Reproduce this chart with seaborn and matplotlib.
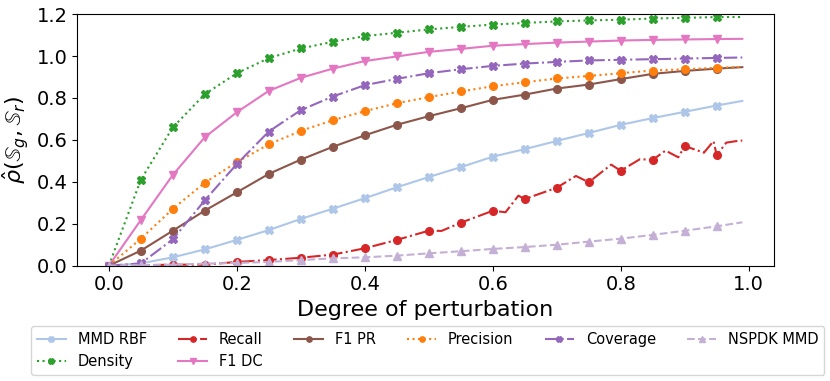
import numpy as np
import pandas as pd
import seaborn as sns
import matplotlib.pyplot as plt

# perturbation degrees (markers drawn at 0.00 .. 0.95, line runs to 0.99)
x_grid = [0.0, 0.05, 0.1, 0.15, 0.2, 0.25, 0.3, 0.35, 0.4, 0.45, 0.5,
          0.55, 0.6, 0.65, 0.7, 0.75, 0.8, 0.85, 0.9, 0.95, 0.99]

mmd_rbf = [0.0, 0.011, 0.04, 0.078, 0.123, 0.17, 0.223, 0.272, 0.322, 0.374, 0.423,
           0.47, 0.52, 0.556, 0.595, 0.633, 0.672, 0.704, 0.734, 0.764, 0.786]
density = [0.0, 0.41, 0.66, 0.818, 0.918, 0.99, 1.036, 1.068, 1.095, 1.111, 1.127,
           1.139, 1.15, 1.158, 1.165, 1.17, 1.173, 1.179, 1.182, 1.186, 1.186]
f1_dc = [0.0, 0.218, 0.433, 0.613, 0.732, 0.834, 0.896, 0.94, 0.976, 0.998, 1.02,
         1.034, 1.049, 1.057, 1.064, 1.069, 1.074, 1.077, 1.079, 1.081, 1.082]
f1_pr = [0.0, 0.072, 0.167, 0.263, 0.35, 0.438, 0.506, 0.567, 0.622, 0.672, 0.713,
         0.751, 0.791, 0.816, 0.845, 0.864, 0.89, 0.915, 0.929, 0.94, 0.947]
precision = [0.0, 0.129, 0.271, 0.396, 0.494, 0.579, 0.643, 0.694, 0.737, 0.775, 0.804,
             0.831, 0.856, 0.875, 0.893, 0.905, 0.918, 0.931, 0.937, 0.944, 0.948]
coverage = [0.0, 0.011, 0.126, 0.312, 0.485, 0.64, 0.742, 0.807, 0.861, 0.891, 0.918,
            0.937, 0.953, 0.964, 0.972, 0.979, 0.982, 0.985, 0.988, 0.991, 0.993]
nspdk = [0.0, 0.003, 0.005, 0.01, 0.013, 0.018, 0.027, 0.035, 0.04, 0.048, 0.059,
         0.069, 0.08, 0.089, 0.1, 0.115, 0.129, 0.147, 0.167, 0.188, 0.207]

# recall is jagged, so it keeps a finer set of points
x_recall = [0.0, 0.05, 0.1, 0.15, 0.2, 0.25, 0.3, 0.35, 0.4, 0.45, 0.5, 0.52,
            0.55, 0.6, 0.62, 0.64, 0.65, 0.7, 0.73, 0.75, 0.785, 0.8, 0.83,
            0.85, 0.87, 0.89, 0.9, 0.93, 0.945, 0.95, 0.965, 0.98, 0.99]
recall = [0.0, 0.002, 0.005, 0.005, 0.018, 0.027, 0.038, 0.053, 0.083, 0.123, 0.167, 0.166,
          0.205, 0.262, 0.255, 0.334, 0.318, 0.372, 0.428, 0.398, 0.482, 0.453, 0.508,
          0.505, 0.549, 0.517, 0.571, 0.539, 0.594, 0.527, 0.587, 0.594, 0.597]

series = [
    ("MMD RBF", x_grid, mmd_rbf, "#aec7e8", "X", "-"),
    ("Density", x_grid, density, "#2ca02c", "X", ":"),
    ("Recall", x_recall, recall, "#d62728", "o", "-."),
    ("F1 DC", x_grid, f1_dc, "#e377c2", "v", "-"),
    ("F1 PR", x_grid, f1_pr, "#8c564b", "o", "-"),
    ("Precision", x_grid, precision, "#ff7f0e", "o", ":"),
    ("Coverage", x_grid, coverage, "#9467bd", "X", "-."),
    ("NSPDK MMD", x_grid, nspdk, "#c5b0d5", "^", "--"),
]

fig = plt.figure(figsize=(8.3, 3.81), dpi=100)
ax = fig.add_axes([0.093, 0.3026, 0.8395, 0.6604])

for name, xs, ys, col, mk, ls in series:
    xs = np.array(xs)
    marks = [i for i, v in enumerate(xs) if round(v * 100) % 5 == 0 and v <= 0.95]
    sns.lineplot(x=xs, y=ys, ax=ax, color=col, marker=mk, linestyle=ls,
                 markevery=marks, markersize=5.5, markeredgecolor=col,
                 markeredgewidth=1.0, linewidth=1.5, label=name)

ax.set_ylim(0, 1.2)
ax.set_xlim(-0.0495, 1.0395)
ax.set_xticks([0.0, 0.2, 0.4, 0.6, 0.8, 1.0])
ax.set_yticks([0.0, 0.2, 0.4, 0.6, 0.8, 1.0, 1.2])
ax.tick_params(labelsize=14)
ax.set_xlabel("Degree of perturbation", fontsize=16)
ax.set_ylabel(r"$\hat{\rho}(\mathbb{S}_g, \mathbb{S}_r)$", fontsize=16)

ax.legend(loc="upper center", bbox_to_anchor=(0.503, -0.21), ncol=6,
          fontsize=10.5, frameon=True, markerscale=0.7, columnspacing=2.15)

fig.savefig("out.png", dpi=100)
